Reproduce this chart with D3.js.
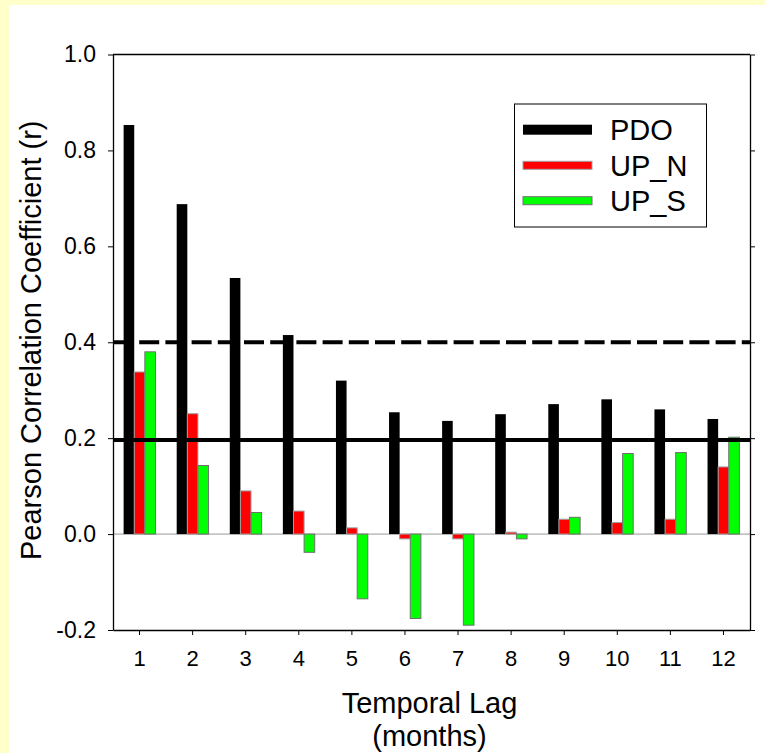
<!DOCTYPE html>
<html>
<head>
<meta charset="utf-8">
<script src="https://cdn.jsdelivr.net/npm/d3@7"></script>
<style>
  html, body { margin: 0; padding: 0; background: #FFFFCC; }
  svg { display: block; }
  text { font-family: "Liberation Sans", Arial, sans-serif; fill: #000; }
</style>
</head>
<body>
<svg id="chart" width="765" height="753"></svg>
<script>
// ---- data ----
const lags = ["1","2","3","4","5","6","7","8","9","10","11","12"];
const seriesNames = ["PDO", "UP_N", "UP_S"];
const pdo = [0.853, 0.688, 0.534, 0.415, 0.320, 0.254, 0.236, 0.250, 0.271, 0.281, 0.260, 0.240];
const upN = [0.338, 0.251, 0.090, 0.048, 0.013, -0.010, -0.010, 0.004, 0.031, 0.024, 0.031, 0.140];
const upS = [0.380, 0.143, 0.045, -0.038, -0.135, -0.176, -0.190, -0.010, 0.035, 0.168, 0.170, 0.202];
const yTicks = [-0.2, 0.0, 0.2, 0.4, 0.6, 0.8, 1.0];
const yTickLabels = ["-0.2", "0.0", "0.2", "0.4", "0.6", "0.8", "1.0"];
const refSolid = 0.196;   // significance line (solid)
const refDashed = 0.4;    // significance line (dashed)

(function () {
const colors = ["#000000", "#FF0000", "#00FF00"];
const strokes = ["#000000", "#a0a0a0", "#707070"];
const allSeries = [pdo, upN, upS];

const svg = d3.select("#chart");

// white panel
svg.append("rect").attr("x", 9).attr("y", 5).attr("width", 756).attr("height", 748).attr("fill", "#ffffff");

const pL = 113, pR = 750, pT = 54.5, pB = 630;
const x = d3.scaleBand().domain(lags).range([pL, pR]).paddingInner(0).paddingOuter(0);
const y = d3.scaleLinear().domain([-0.2, 1.0]).range([pB, pT]);
const bw = x.step() * 0.2;

// zero line
svg.append("line")
  .attr("x1", pL).attr("x2", pR)
  .attr("y1", y(0)).attr("y2", y(0))
  .attr("stroke", "#9a9a9a").attr("stroke-width", 1);

// bars
allSeries.forEach((vals, si) => {
  svg.append("g").selectAll("rect")
    .data(vals.map((v, i) => ({ lag: lags[i], v })))
    .join("rect")
    .attr("x", d => x(d.lag) + x.step() / 2 + (si - 1.5) * bw)
    .attr("width", bw)
    .attr("y", d => y(Math.max(0, d.v)))
    .attr("height", d => Math.abs(y(d.v) - y(0)))
    .attr("fill", colors[si])
    .attr("stroke", strokes[si])
    .attr("stroke-width", si === 0 ? 0 : 1);
});

// reference lines
svg.append("line")
  .attr("x1", pL).attr("x2", pR)
  .attr("y1", y(refSolid)).attr("y2", y(refSolid))
  .attr("stroke", "#000").attr("stroke-width", 4);
svg.append("line")
  .attr("x1", pL).attr("x2", pR)
  .attr("y1", y(refDashed)).attr("y2", y(refDashed))
  .attr("stroke", "#000").attr("stroke-width", 4)
  .attr("stroke-dasharray", "20,6.2");

// axes
const yAxis = d3.axisLeft(y).tickValues(yTicks)
  .tickFormat((d, i) => yTickLabels[i])
  .tickSize(5).tickSizeOuter(0).tickPadding(12);
const gy = svg.append("g").attr("transform", `translate(${pL},0)`).call(yAxis);
gy.selectAll("text").style("font-size", "23px");

const yAxisR = d3.axisRight(y).tickValues(yTicks).tickFormat("").tickSize(5).tickSizeOuter(0);
svg.append("g").attr("transform", `translate(${pR},0)`).call(yAxisR);

const xAxis = d3.axisBottom(x).tickSize(5).tickSizeOuter(0).tickPadding(15);
const gx = svg.append("g").attr("transform", `translate(0,${pB})`).call(xAxis);
gx.selectAll("text").style("font-size", "22px");

svg.selectAll(".domain").attr("stroke", "#000").attr("stroke-width", 1.3);
svg.selectAll(".tick line").attr("stroke", "#000").attr("stroke-width", 1);

// top frame line
svg.append("line").attr("x1", pL).attr("x2", pR).attr("y1", pT).attr("y2", pT)
  .attr("stroke", "#000").attr("stroke-width", 1.3);

// axis titles
svg.append("text")
  .attr("transform", `translate(41,${(pT + pB) / 2 - 2}) rotate(-90)`)
  .attr("text-anchor", "middle")
  .style("font-size", "29px")
  .text("Pearson Correlation Coefficient (r)");
svg.append("text")
  .attr("x", (pL + pR) / 2 - 2).attr("y", 713)
  .attr("text-anchor", "middle")
  .style("font-size", "29px")
  .text("Temporal Lag");
svg.append("text")
  .attr("x", (pL + pR) / 2 - 2).attr("y", 746)
  .attr("text-anchor", "middle")
  .style("font-size", "29px")
  .text("(months)");

// legend
const lg = svg.append("g");
lg.append("rect").attr("x", 514.5).attr("y", 104).attr("width", 192).attr("height", 123)
  .attr("fill", "#fff").attr("stroke", "#000").attr("stroke-width", 1);
const legendY = [129.7, 165.3, 200.7];
const legendH = [10, 8, 8];
seriesNames.forEach((name, i) => {
  lg.append("rect")
    .attr("x", 523).attr("width", 69)
    .attr("y", legendY[i] - legendH[i] / 2).attr("height", legendH[i])
    .attr("fill", colors[i]).attr("stroke", strokes[i]).attr("stroke-width", i === 0 ? 0 : 1);
  lg.append("text")
    .attr("x", 610).attr("y", legendY[i] + 10.5)
    .style("font-size", "29px")
    .text(name);
});
})();
</script>
</body>
</html>
